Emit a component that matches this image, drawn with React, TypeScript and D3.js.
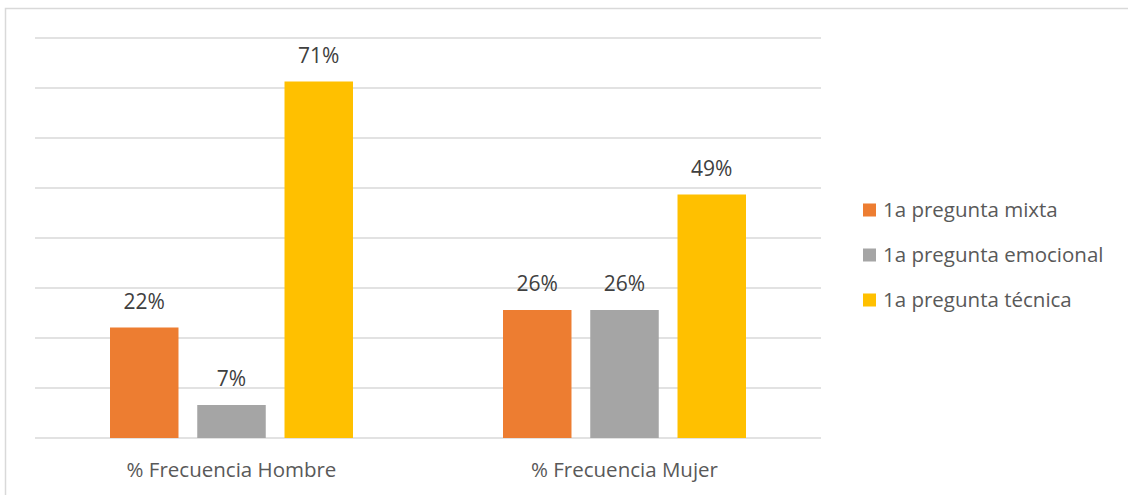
import React, { useEffect, useRef } from "react";
import * as d3 from "d3";

// categories and series
const categories = ["% Frecuencia Hombre", "% Frecuencia Mujer"];
const seriesNames = ["1a pregunta mixta", "1a pregunta emocional", "1a pregunta técnica"];
const seriesColors = ["#ED7D31", "#A5A5A5", "#FFC000"];
const mixta = [0.221, 0.256];
const emocional = [0.066, 0.256];
const tecnica = [0.713, 0.487];
const yTicks = [0, 0.1, 0.2, 0.3, 0.4, 0.5, 0.6, 0.7, 0.8];

const W = 1128;
const H = 495;
const FONT = "'Open Sans', 'Noto Sans', sans-serif";

export default function App() {
  const svgRef = useRef<SVGSVGElement | null>(null);

  useEffect(() => {
    const svg = d3.select(svgRef.current);
    svg.selectAll("*").remove();

    const values = [mixta, emocional, tecnica];

    // plot area
    const left = 35;
    const right = 821;
    const top = 38;
    const bottom = 438;

    const y = d3.scaleLinear().domain([0, 0.8]).range([bottom, top]);
    const x0 = d3.scaleBand<string>().domain(categories).range([left, right]);
    const groupPad = 75;
    const x1 = d3
      .scaleBand<number>()
      .domain(d3.range(seriesNames.length))
      .range([groupPad, x0.bandwidth() - groupPad])
      .paddingInner(0.215);

    // chart border
    svg
      .append("rect")
      .attr("x", 5.5)
      .attr("y", 8.5)
      .attr("width", W + 20)
      .attr("height", H + 20)
      .attr("fill", "#fff")
      .attr("stroke", "#d9d9d9")
      .attr("stroke-width", 1.5);

    // gridlines
    svg
      .append("g")
      .selectAll("line")
      .data(yTicks)
      .join("line")
      .attr("x1", left)
      .attr("x2", right)
      .attr("y1", (d) => y(d))
      .attr("y2", (d) => y(d))
      .attr("stroke", "#d9d9d9")
      .attr("stroke-width", 1.5);

    // bars + labels
    const groups = svg
      .append("g")
      .selectAll("g")
      .data(categories)
      .join("g")
      .attr("transform", (d) => `translate(${x0(d)},0)`);

    groups.each(function (cat, ci) {
      const g = d3.select(this);
      seriesNames.forEach((_, si) => {
        const v = values[si][ci];
        g.append("rect")
          .attr("x", x1(si)!)
          .attr("y", y(v))
          .attr("width", x1.bandwidth())
          .attr("height", y(0) - y(v))
          .attr("fill", seriesColors[si]);
        g.append("text")
          .attr("x", x1(si)! + x1.bandwidth() / 2)
          .attr("y", y(v) - 19)
          .attr("text-anchor", "middle")
          .attr("font-family", FONT)
          .attr("font-size", 21)
          .attr("fill", "#404040")
          .text(d3.format(".0%")(v));
      });
    });

    // category labels
    svg
      .append("g")
      .selectAll("text")
      .data(categories)
      .join("text")
      .attr("x", (d) => x0(d)! + x0.bandwidth() / 2)
      .attr("y", 477)
      .attr("text-anchor", "middle")
      .attr("font-family", FONT)
      .attr("font-size", 20.5)
      .attr("fill", "#595959")
      .text((d) => d);

    // legend
    const legend = svg
      .append("g")
      .selectAll("g")
      .data(seriesNames)
      .join("g")
      .attr("transform", (d, i) => `translate(863,${210 + i * 45})`);

    legend
      .append("rect")
      .attr("x", 0)
      .attr("y", -6.5)
      .attr("width", 13)
      .attr("height", 13)
      .attr("fill", (d, i) => seriesColors[i]);

    legend
      .append("text")
      .attr("x", 20)
      .attr("y", 0)
      .attr("dy", "0.35em")
      .attr("font-family", FONT)
      .attr("font-size", 20.5)
      .attr("fill", "#595959")
      .text((d) => d);
  }, []);

  return (
    <svg
      ref={svgRef}
      width={W}
      height={H}
      style={{ position: "absolute", left: 0, top: 0, background: "#fff" }}
    />
  );
}
